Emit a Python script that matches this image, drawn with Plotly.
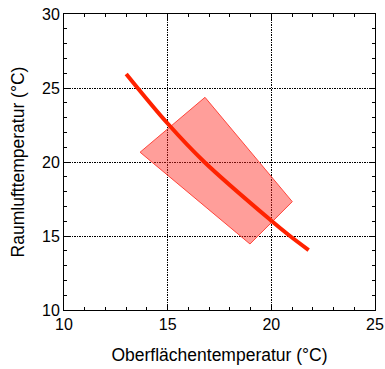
import plotly.graph_objects as go

# Comfort zone outline (surface temp, room air temp)
zone_x = [13.67, 16.80, 21.01, 18.97, 13.67]
zone_y = [20.66, 24.37, 17.32, 14.46, 20.66]

# Room air temperature required for a given surface temperature
curve_x = [13.0, 15.0, 16.77, 20.0, 20.9, 21.8]
curve_y = [25.95, 22.6, 20.0, 16.03, 15.0, 14.05]

x_ticks = [10, 15, 20, 25]
y_ticks = [10, 15, 20, 25, 30]

fig = go.Figure()
fig.add_trace(go.Scatter(
    x=zone_x, y=zone_y, mode="lines", fill="toself",
    fillcolor="rgba(255,40,30,0.45)",
    line=dict(color="rgb(255,70,60)", width=1),
    hoverinfo="skip", showlegend=False,
))
fig.add_trace(go.Scatter(
    x=curve_x, y=curve_y, mode="lines",
    line=dict(color="rgb(255,34,0)", width=4, shape="spline", smoothing=1.0),
    showlegend=False,
))

axis_common = dict(
    showline=True, linecolor="black", linewidth=1, mirror="allticks",
    ticks="inside", ticklen=6, tickwidth=1, tickcolor="black",
    showgrid=True, gridcolor="black", gridwidth=1, griddash="2px,1px,1px,1px",
    zeroline=False, automargin=False,
    tickfont=dict(family="Liberation Sans, Arial", size=16, color="black"),
    title_font=dict(family="Liberation Sans, Arial", size=17.5, color="black"),
    minor=dict(ticks="inside", ticklen=3, tickcolor="black", dtick=1, showgrid=False),
)

fig.update_xaxes(
    range=[10, 25], tickvals=x_ticks, title_text="Oberflächentemperatur (°C)",
    title_standoff=16, **axis_common,
)
fig.update_yaxes(
    range=[10, 30], tickvals=y_ticks, title_text="Raumlufttemperatur (°C)",
    title_standoff=12, **axis_common,
)

fig.update_layout(
    width=385, height=369,
    margin=dict(l=64, r=10, t=14, b=59),
    plot_bgcolor="white", paper_bgcolor="white",
)

fig.write_html("out.html")
